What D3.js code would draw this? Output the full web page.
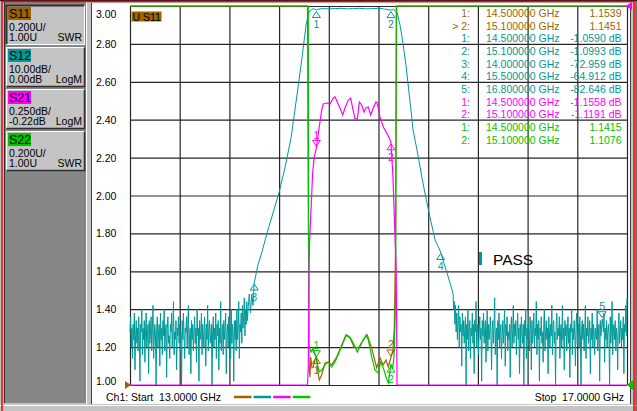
<!DOCTYPE html>
<html>
<head>
<meta charset="utf-8">
<script src="https://cdn.jsdelivr.net/npm/d3@7"></script>
<style>
html,body{margin:0;padding:0;background:#c4c4c4;}
svg{display:block;font-family:"Liberation Sans",Arial,sans-serif;}
text{white-space:pre;}
</style>
</head>
<body>
<svg id="chart" width="637" height="411"></svg>
<script>
// ---- sweep / axis ----
var startGHz = 13, stopGHz = 17;
var freqGrid = [13.0, 13.4, 13.8, 14.2, 14.6, 15.0, 15.4, 15.8, 16.2, 16.6, 17.0];
var swrTicks = [3.00, 2.80, 2.60, 2.40, 2.20, 2.00, 1.80, 1.60, 1.40, 1.20, 1.00];

// ---- channel buttons ----
var chanNames = ["S11", "S12", "S21", "S22"];
var chanColors = ["#996600", "#009999", "#ff00ff", "#00c400"];
var chanScaleTxt = ["0.200U/", "10.00dB/", "0.250dB/", "0.200U/"];
var chanRefTxt = ["1.00U", "0.00dB", "-0.22dB", "1.00U"];
var chanFmt = ["SWR", "LogM", "LogM", "SWR"];

// ---- S12 (dB) : noise floor below 14 GHz, skirts + passband, noise above 15.6 GHz ----
var sweepStep = 0.005;
var s12NoiseLo = [ // 13.000 .. 13.960
  -86,-82,-90,-85,-93,-84,-88,-81,-96,-87,
  -83,-89,-85,-91,-82,-87,-99,-84,-86,-80,
  -92,-85,-88,-83,-94,-86,-81,-90,-87,-84,
  -97,-83,-89,-86,-82,-91,-85,-79,-93,-88,
  -84,-87,-100,-85,-82,-90,-86,-84,-95,-81,
  -88,-85,-92,-83,-87,-80,-91,-86,-84,-98,
  -85,-82,-89,-87,-93,-84,-86,-81,-90,-85,
  -78,-92,-86,-88,-83,-96,-85,-87,-82,-89,
  -84,-91,-86,-100,-83,-88,-81,-87,-93,-85,
  -86,-82,-90,-84,-79,-92,-87,-85,-97,-83,
  -88,-84,-91,-86,-82,-89,-85,-94,-80,-87,
  -85,-99,-83,-88,-86,-81,-92,-84,-87,-90,
  -82,-86,-95,-84,-88,-79,-91,-85,-83,-89,
  -87,-84,-100,-86,-82,-90,-85,-88,-81,-93,
  -84,-87,-83,-96,-85,-89,-78,-91,-86,-84,
  -92,-83,-88,-85,-81,-97,-86,-84,-90,-82,
  -87,-85,-93,-80,-89,-84,-86,-99,-83,-88,
  -83,-91,-80,-88,-85,-78,-93,-84,-86,-81,
  -89,-79,-85,-82,-77,-87,-80,-84,-78,-83,
  -80,-78,-76];
var s12EdgeFreq = [13.97,13.98,13.99,14.00,14.03,14.062,14.103,14.151,14.199,14.247,14.296,14.344,14.384,14.417,14.441,
  14.46,14.48,14.50,14.52,14.56,14.60,14.65,14.70,14.75,14.80,14.85,14.90,14.95,15.00,15.05,15.10,15.12,
  15.149,15.173,15.197,15.221,15.237,15.261,15.278,15.310,15.350,15.390,15.423,15.455,15.50,15.551,15.592];
var s12EdgeDb = [-81,-76,-79,-72.96,-68.3,-64.9,-59.9,-54.6,-49.3,-42.7,-34.8,-23.5,-13.7,-5.0,-1.6,
  -0.9,-0.7,-1.06,-0.8,-0.7,-0.75,-0.7,-0.6,-0.75,-0.7,-0.6,-0.75,-0.7,-0.6,-0.8,-1.10,-0.9,
  -1.6,-5.0,-9.8,-15.6,-20.3,-27.4,-32.7,-38.0,-45.4,-52.0,-57.0,-61.7,-64.91,-70.4,-74.9];
var noiseHiStart = 15.60;
var s12NoiseHi = [ // 15.600 .. 17.000
  -76,-80,-78,-84,-79,-86,-81,-88,-83,-79,
  -90,-82,-86,-84,-95,-81,-87,-83,-89,-85,
  -82,-100,-84,-88,-80,-91,-86,-83,-93,-85,
  -87,-81,-89,-84,-97,-83,-86,-78,-90,-85,
  -84,-92,-86,-82,-88,-85,-99,-83,-87,-81,
  -89,-85,-83,-94,-86,-80,-91,-84,-88,-86,
  -82,-87,-96,-85,-83,-89,-84,-77,-92,-86,
  -85,-100,-83,-88,-81,-90,-86,-84,-93,-87,
  -83,-89,-85,-80,-95,-84,-87,-82,-91,-86,
  -88,-84,-98,-85,-82,-90,-86,-79,-89,-84,
  -87,-83,-92,-86,-81,-88,-85,-97,-84,-90,
  -82,-86,-89,-84,-100,-83,-87,-80,-93,-85,
  -88,-84,-86,-91,-82,-85,-96,-83,-89,-86,
  -81,-90,-85,-87,-78,-92,-84,-88,-83,-99,
  -85,-87,-82,-89,-86,-94,-84,-80,-91,-86,
  -83,-88,-85,-97,-82,-86,-90,-84,-87,-79,
  -92,-85,-83,-89,-86,-100,-84,-81,-88,-85,
  -87,-82,-93,-86,-84,-90,-79,-88,-85,-96,
  -83,-87,-84,-91,-86,-82,-89,-85,-98,-84,
  -86,-80,-92,-85,-88,-83,-87,-95,-84,-81,
  -89,-86,-84,-90,-82,-87,-100,-85,-83,-88,
  -84,-91,-86,-79,-93,-85,-87,-82,-89,-86,
  -83,-97,-85,-88,-81,-90,-84,-86,-92,-85,
  -87,-88,-80,-91,-86,-84,-99,-83,-87,-85,
  -82.6,-84,-86,-81,-94,-85,-88,-83,-90,-86,
  -84,-87,-100,-82,-89,-85,-78,-92,-86,-84,
  -88,-83,-91,-85,-87,-96,-84,-81,-89,-86,
  -83,-90,-85,-88,-82,-97,-84,-86,-79,-87,
  -77];

// ---- S21 (dB) ----
var s21Freq = [13.00,14.428,14.435,14.441,14.444,14.453,14.457,14.470,14.483,14.500,
  14.523,14.543,14.555,14.583,14.610,14.636,14.650,14.668,14.690,14.712,
  14.730,14.757,14.776,14.792,14.811,14.830,14.846,14.865,14.883,14.899,
  14.918,14.937,14.958,14.980,14.990,15.012,15.039,15.066,15.087,15.100,
  15.107,15.115,15.125,15.133,15.141,15.145,15.149,17.00];
var s21Db = [-40,-40,-2.608,-1.961,-1.81,-1.632,-1.566,-1.322,-1.216,-1.1558,
  -1.018,-0.906,-0.866,-0.860,-0.866,-0.827,-0.820,-0.853,-0.893,-0.939,
  -0.893,-0.840,-0.827,-0.893,-0.965,-0.965,-0.853,-0.873,-0.919,-0.893,
  -0.886,-0.939,-0.893,-0.853,-0.860,-0.952,-1.018,-1.058,-1.09,-1.1191,
  -1.216,-1.322,-1.546,-1.744,-1.915,-2.16,-40,-40];

// ---- S11 (SWR) ----
var s11Freq = [13.00,14.4286,14.4406,14.4487,14.4543,14.4648,14.4753,14.4889,14.50,14.5131,
  14.5235,14.5429,14.5694,14.5960,14.6233,14.6636,14.7038,14.7384,14.7706,14.8028,
  14.8374,14.8777,14.9099,14.9453,14.9855,15.0121,15.0386,15.0604,15.0789,15.10,
  15.1167,15.1272,15.1368,15.1465,17.00];
var s11Swr = [4,4,1.100,1.042,1.148,1.090,1.095,1.132,1.1539,1.069,
  1.026,1.053,1.116,1.121,1.106,1.148,1.211,1.264,1.248,1.201,
  1.195,1.238,1.264,1.195,1.090,1.143,1.106,1.132,1.095,1.1451,
  1.185,1.301,1.712,4,4];

// ---- S22 (SWR) ----
var s22Freq = [13.00,14.4346,14.4386,14.4567,14.4753,14.50,14.5131,14.5235,14.5429,14.5694,
  14.5960,14.6233,14.6499,14.6845,14.7167,14.7441,14.7706,14.7972,14.8294,14.8648,
  14.8994,14.9179,14.9453,14.9718,14.9984,15.0177,15.0386,15.0604,15.0789,15.10,
  15.1143,15.1247,15.1328,15.1384,15.1425,17.00];
var s22Swr = [4,4,1.211,1.174,1.195,1.1415,1.095,1.069,1.079,1.106,
  1.121,1.095,1.121,1.174,1.227,1.264,1.253,1.222,1.174,1.222,
  1.264,1.238,1.148,1.079,1.063,1.121,1.090,1.042,1.011,1.1076,
  1.090,1.148,1.327,1.501,4,4];

// ---- markers ----
var s11MkFreq = [14.5, 15.1], s11MkVal = [1.1539, 1.1451];
var s12MkFreq = [14.5, 15.1, 14.0, 15.5, 16.8], s12MkVal = [-1.059, -1.0993, -72.959, -64.912, -82.646];
var s21MkFreq = [14.5, 15.1], s21MkVal = [-1.1558, -1.1191];
var s22MkFreq = [14.5, 15.1], s22MkVal = [1.1415, 1.1076];

// ---- marker readout table ----
var tableIds = ["1:", "> 2:", "1:", "2:", "3:", "4:", "5:", "1:", "2:", "1:", "2:"];
var tableFreqs = ["14.500000 GHz","15.100000 GHz","14.500000 GHz","15.100000 GHz","14.000000 GHz",
  "15.500000 GHz","16.800000 GHz","14.500000 GHz","15.100000 GHz","14.500000 GHz","15.100000 GHz"];
var tableVals = ["1.1539","1.1451","-1.0590 dB","-1.0993 dB","-72.959 dB","-64.912 dB",
  "-82.646 dB","-1.1558 dB","-1.1191 dB","1.1415","1.1076"];
var tableTrace = [0, 0, 1, 1, 1, 1, 1, 2, 2, 3, 3];

var svg = d3.select("#chart");
var W = 637, H = 411;
var gridColor = "#262626";

// ---- window frame ----
svg.append("rect").attr("width", W).attr("height", H).attr("fill", "#c4c4c4");
svg.append("rect").attr("x", 4).attr("y", 2).attr("width", 83).attr("height", 401).attr("fill", "#868686");
svg.append("line").attr("x1", 4.5).attr("x2", 4.5).attr("y1", 2).attr("y2", 403).attr("stroke", "#303030");
svg.append("line").attr("x1", 86.5).attr("x2", 86.5).attr("y1", 2).attr("y2", 404).attr("stroke", "#ffffff");
svg.append("rect").attr("x", 92).attr("y", 3).attr("width", 539).attr("height", 401).attr("fill", "#ffffff");
svg.append("line").attr("x1", 91.5).attr("x2", 91.5).attr("y1", 3).attr("y2", 404).attr("stroke", "#404040");
svg.append("line").attr("x1", 0).attr("x2", W).attr("y1", 405.5).attr("y2", 405.5).attr("stroke", "#ffffff");
svg.append("line").attr("x1", 630.5).attr("x2", 630.5).attr("y1", 3).attr("y2", 404).attr("stroke", "#404040");
svg.append("line").attr("x1", 0).attr("x2", W).attr("y1", 0.5).attr("y2", 0.5).attr("stroke", "#202020");
svg.append("path")
    .attr("d", "M2,411V1.5H634V411")
    .attr("fill", "none")
    .attr("stroke", "#ff0000")
    .attr("stroke-width", 1.5);
svg.append("line").attr("x1", 636).attr("x2", 636).attr("y1", 0).attr("y2", H).attr("stroke", "#202020");

// ---- channel buttons ----
chanNames.forEach(function(n, i) {
    var b = 5 + 42 * i;
    var g = svg.append("g");
    var hi = i === 0 ? "#303030" : "#ffffff";
    var lo = i === 0 ? "#ffffff" : "#303030";
    g.append("rect").attr("x", 6).attr("y", b).attr("width", 79).attr("height", 40).attr("fill", "#c4c4c4");
    g.append("path").attr("d", "M6.5," + (b + 39.5) + "V" + (b + 0.5) + "H84.5")
        .attr("fill", "none").attr("stroke", hi).attr("stroke-width", i === 0 ? 2 : 1);
    g.append("path").attr("d", "M6.5," + (b + 39.5) + "H84.5V" + (b + 0.5))
        .attr("fill", "none").attr("stroke", lo).attr("stroke-width", i === 0 ? 1 : 1.5);
    g.append("rect").attr("x", 8).attr("y", b + 2).attr("width", 23).attr("height", 13).attr("fill", chanColors[i]);
    g.append("text").attr("x", 9).attr("y", b + 13).attr("font-size", "12.5px").attr("fill", "#000").text(n);
    g.append("text").attr("x", 9).attr("y", b + 25.7).attr("font-size", "10.5px").text(chanScaleTxt[i]);
    g.append("text").attr("x", 9).attr("y", b + 36.3).attr("font-size", "10.5px").text(chanRefTxt[i]);
    g.append("text").attr("x", 82).attr("y", b + 36.3).attr("font-size", "10.5px")
        .attr("text-anchor", "end").text(chanFmt[i]);
});

// ---- scales ----
var x = d3.scaleLinear().domain([startGHz, stopGHz]).range([130, 627]);
var ySwr = d3.scaleLinear().domain([1, 3]).range([385, 6]).clamp(true);
var yS12 = d3.scaleLinear().domain([-100, 0]).range([385, 6]).clamp(true);
var yS21 = d3.scaleLinear().domain([-2.72, -0.22]).range([385, 6]).clamp(true);

// ---- grid via axes ----
var gx = svg.append("g").attr("transform", "translate(0,385)")
    .call(d3.axisBottom(x).tickValues(freqGrid).tickSize(-379).tickFormat(""));
gx.select(".domain").remove();
gx.selectAll("line").attr("stroke", gridColor).attr("stroke-width", 1.2);

var gy = svg.append("g").attr("transform", "translate(130,0)")
    .call(d3.axisLeft(ySwr).tickValues(swrTicks).tickSize(-497).tickFormat(d3.format(".2f")));
gy.select(".domain").remove();
gy.selectAll("line").attr("stroke", gridColor).attr("stroke-width", 1.2);
gy.selectAll("text")
    .attr("x", -34)
    .attr("text-anchor", "start")
    .attr("fill", "#000")
    .attr("font-size", "10.5px")
    .attr("font-family", "'Liberation Sans',Arial,sans-serif")
    .attr("dy", function(d) { return d === 3 ? "1.05em" : (d === 1 ? "-0.02em" : "0.34em"); });

// ---- traces ----
var s12 = [];
s12NoiseLo.forEach(function(v, i) { s12.push([startGHz + i * sweepStep, v]); });
s12EdgeFreq.forEach(function(f, i) { s12.push([f, s12EdgeDb[i]]); });
s12NoiseHi.forEach(function(v, i) { s12.push([noiseHiStart + i * sweepStep, v]); });

function trace(fr, vals, ys, color, w) {
    var pts = fr.map(function(f, i) { return [f, vals[i]]; });
    svg.append("path")
        .datum(pts)
        .attr("fill", "none")
        .attr("stroke", color)
        .attr("stroke-width", w)
        .attr("d", d3.line().x(function(d) { return x(d[0]); }).y(function(d) { return ys(d[1]); }));
}
trace(s12.map(function(d) { return d[0]; }), s12.map(function(d) { return d[1]; }), yS12, chanColors[1], 1);
trace(s11Freq, s11Swr, ySwr, chanColors[0], 1.2);
trace(s22Freq, s22Swr, ySwr, chanColors[3], 1.2);
trace(s21Freq, s21Db, yS21, chanColors[2], 1.2);

// ---- marker symbols ----
function drawMarker(px, py, dir, label, color) {
    var s = dir === "up" ? 1 : -1;
    var tip = py + s * 1.5, base = py + s * 7.5;
    svg.append("path")
        .attr("d", "M" + px + "," + tip + "L" + (px - 4) + "," + base + "L" + (px + 4) + "," + base + "Z")
        .attr("fill", "none").attr("stroke", color).attr("stroke-width", 1);
    svg.append("text")
        .attr("x", px)
        .attr("y", py + (dir === "up" ? 14.5 : -13) + 3.8)
        .attr("text-anchor", "middle")
        .attr("font-size", "10.5px")
        .attr("fill", color)
        .text(label);
}
var s12Dir = ["up", "up", "up", "up", "down"];
s12MkFreq.forEach(function(f, i) { drawMarker(x(f), yS12(s12MkVal[i]), s12Dir[i], String(i + 1), chanColors[1]); });
var s21Dir = ["down", "up"];
s21MkFreq.forEach(function(f, i) { drawMarker(x(f), yS21(s21MkVal[i]), s21Dir[i], String(i + 1), chanColors[2]); });
var s11Dir = ["up", "down"];
s11MkFreq.forEach(function(f, i) { drawMarker(x(f), ySwr(s11MkVal[i]), s11Dir[i], String(i + 1), chanColors[0]); });
var s22Dir = ["down", "up"];
s22MkFreq.forEach(function(f, i) { drawMarker(x(f), ySwr(s22MkVal[i]), s22Dir[i], String(i + 1), chanColors[3]); });

// ---- reference level arrows ----
svg.append("path").attr("d", "M125,381L131,385L125,389Z").attr("fill", chanColors[0]);
svg.append("path").attr("d", "M633,380L627,385L633,390Z").attr("fill", chanColors[3]);
svg.append("path").attr("d", "M632,2L625.5,6L632,10Z").attr("fill", chanColors[2]);

// ---- active trace label ----
svg.append("rect").attr("x", 131.5).attr("y", 11.5).attr("width", 30).attr("height", 10).attr("fill", chanColors[0]);
svg.append("text").attr("x", 132.5).attr("y", 20.6).attr("font-size", "10.5px").attr("fill", "#000").text("U S11");

// ---- marker table ----
var rows = svg.append("g").attr("font-size", "10.5px");
tableIds.forEach(function(id, i) {
    var yy = 13.3 + i * 12.65 + 3.8;
    var c = chanColors[tableTrace[i]];
    rows.append("text").attr("x", 470).attr("y", yy).attr("text-anchor", "end").attr("fill", c).text(id);
    rows.append("text").attr("x", 486).attr("y", yy).attr("fill", c).text(tableFreqs[i]);
    rows.append("text").attr("x", 621.5).attr("y", yy).attr("text-anchor", "end").attr("fill", c).text(tableVals[i]);
});

// ---- limit test result ----
svg.append("rect").attr("x", 479).attr("y", 252).attr("width", 3).attr("height", 13).attr("fill", chanColors[1]);
svg.append("text").attr("x", 493).attr("y", 265).attr("font-size", "15.5px").attr("fill", "#000").text("PASS");

// ---- footer ----
svg.append("text").attr("x", 106).attr("y", 401).attr("font-size", "10.5px").text("Ch1: Start  13.0000 GHz");
svg.append("text").attr("x", 624).attr("y", 401).attr("font-size", "10.5px").attr("text-anchor", "end").text("Stop  17.0000 GHz");
chanColors.forEach(function(c, i) {
    svg.append("line")
        .attr("x1", 234 + i * 19.6).attr("x2", 251.5 + i * 19.6)
        .attr("y1", 397).attr("y2", 397)
        .attr("stroke", c).attr("stroke-width", 2.5);
});
</script>
</body>
</html>
